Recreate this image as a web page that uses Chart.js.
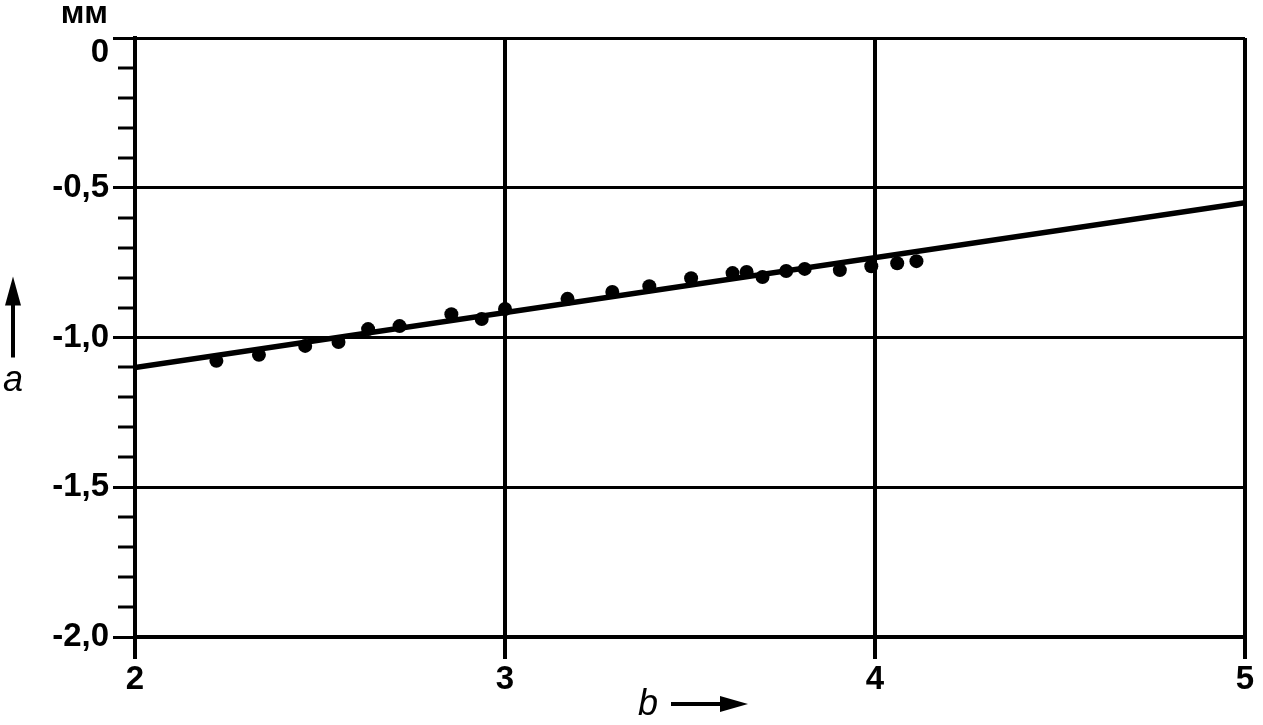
<!DOCTYPE html>
<html>
<head>
<meta charset="utf-8">
<script src="https://cdn.jsdelivr.net/npm/chart.js@4"></script>
<style>
  body { margin: 0; background: #fff; }
  #wrap { width: 1263px; height: 725px; }
</style>
</head>
<body>
<div id="wrap"><canvas id="chart" width="1263" height="725"></canvas></div>
<script>
// measured points (b, a)
const bValues = [2.22, 2.335, 2.46, 2.55, 2.63, 2.715, 2.855, 2.937, 3.0, 3.169, 3.29, 3.39, 3.503, 3.615, 3.653, 3.696, 3.76, 3.81, 3.905, 3.99, 4.06, 4.112];
const aValues = [-1.078, -1.058, -1.028, -1.015, -0.972, -0.962, -0.922, -0.938, -0.905, -0.871, -0.848, -0.829, -0.802, -0.785, -0.781, -0.798, -0.778, -0.771, -0.775, -0.762, -0.752, -0.745];

// fitted straight line
const fitB = [2, 5];
const fitA = [-1.10, -0.55];

const xTickLabels = ['2', '3', '4', '5'];
const yTickLabels = ['-2,0', '-1,5', '-1,0', '-0,5', '0'];
const yMinorStep = 0.1;

const FONT = '"Liberation Sans", Arial, sans-serif';

const extras = {
    id: 'extras',
    afterDraw(chart) {
        const ctx = chart.ctx;
        const area = chart.chartArea;
        const y = chart.scales.y;
        ctx.save();
        ctx.strokeStyle = '#000';
        ctx.fillStyle = '#000';

        // minor ticks on the a axis
        ctx.lineWidth = 3;
        for (let i = 1; i < 20; i++) {
            if (i % 5 === 0) continue;
            const py = Math.round(y.getPixelForValue(-2 + i * yMinorStep));
            ctx.beginPath();
            ctx.moveTo(area.left - 17, py);
            ctx.lineTo(area.left, py);
            ctx.stroke();
        }

        // unit
        ctx.font = 'bold 32px ' + FONT;
        ctx.textAlign = 'right';
        ctx.textBaseline = 'alphabetic';
        ctx.fillText('мм', area.left - 27, 23);

        // a with up arrow
        const midY = (area.top + area.bottom) / 2;
        ctx.lineWidth = 4;
        ctx.beginPath();
        ctx.moveTo(13, midY + 20);
        ctx.lineTo(13, midY - 40);
        ctx.stroke();
        ctx.beginPath();
        ctx.moveTo(13, midY - 61);
        ctx.lineTo(21, midY - 32);
        ctx.lineTo(5, midY - 32);
        ctx.closePath();
        ctx.fill();
        ctx.font = 'italic 36px ' + FONT;
        ctx.textAlign = 'center';
        ctx.fillText('a', 13, midY + 53);

        // b with right arrow
        const midX = (area.left + area.right) / 2;
        const ay = 704;
        ctx.beginPath();
        ctx.moveTo(midX - 19, ay);
        ctx.lineTo(midX + 35, ay);
        ctx.stroke();
        ctx.beginPath();
        ctx.moveTo(midX + 58, ay);
        ctx.lineTo(midX + 30, ay - 8);
        ctx.lineTo(midX + 30, ay + 8);
        ctx.closePath();
        ctx.fill();
        ctx.fillText('b', midX - 42, 715);

        ctx.restore();
    }
};

new Chart(document.getElementById('chart'), {
    type: 'scatter',
    data: {
        datasets: [
            {
                label: 'fit',
                data: fitB.map((b, i) => ({ x: b, y: fitA[i] })),
                showLine: true,
                borderColor: '#000',
                borderWidth: 5.5,
                pointRadius: 0,
                fill: false
            },
            {
                label: 'points',
                data: bValues.map((b, i) => ({ x: b, y: aValues[i] })),
                backgroundColor: '#000',
                borderColor: '#000',
                borderWidth: 0,
                pointRadius: 7
            }
        ]
    },
    options: {
        responsive: false,
        animation: false,
        layout: { padding: { top: 38, right: 18, left: 0, bottom: 0 } },
        plugins: {
            legend: { display: false },
            tooltip: { enabled: false }
        },
        scales: {
            x: {
                type: 'linear',
                min: 2,
                max: 5,
                afterFit(scale) { scale.height = 88; },
                ticks: {
                    stepSize: 1,
                    color: '#000',
                    font: { family: FONT, size: 33, weight: 'bold' },
                    padding: 1,
                    maxRotation: 0,
                    callback: (v, i) => xTickLabels[i]
                },
                grid: { color: '#000', lineWidth: 4, tickLength: 22 },
                border: { color: '#000', width: 4 }
            },
            y: {
                type: 'linear',
                min: -2,
                max: 0,
                afterFit(scale) { scale.width = 135; },
                ticks: {
                    stepSize: 0.5,
                    color: '#000',
                    font: { family: FONT, size: 33, weight: 'bold', lineHeight: 0.9 },
                    padding: 4,
                    callback: (v, i) => (v === 0 ? ['', yTickLabels[i]] : yTickLabels[i])
                },
                grid: { color: '#000', lineWidth: 3, tickLength: 22 },
                border: { color: '#000', width: 4 }
            }
        }
    },
    plugins: [extras]
});
</script>
</body>
</html>
